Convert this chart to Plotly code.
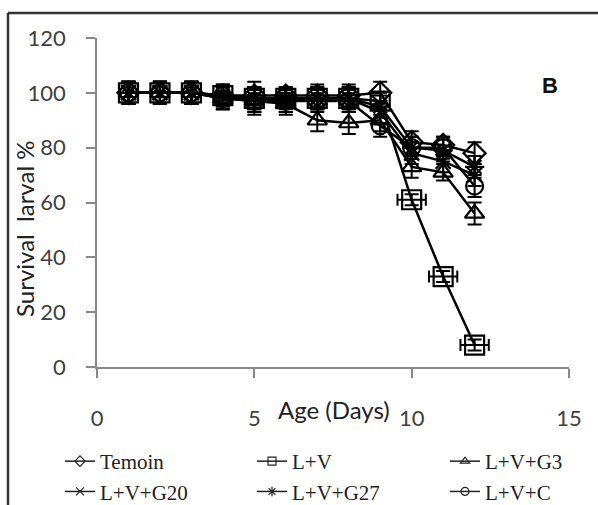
import plotly.graph_objects as go

# Larval survival (%) by age, six treatments
days = [1, 2, 3, 4, 5, 6, 7, 8, 9, 10, 11, 12]

temoin = [100, 100, 100, 99, 99, 99, 99, 99, 100, 82, 81, 78]
lv = [100, 100, 100, 99, 98, 98, 98, 98, 97, 61, 33, 8]
lv_g3 = [100, 100, 100, 98, 97, 96, 90, 89, 90, 73, 71, 56]
lv_g20 = [100, 100, 100, 98, 98, 97, 98, 98, 93, 78, 75, 70]
lv_g27 = [100, 100, 100, 99, 98, 98, 98, 98, 95, 80, 79, 73]
lv_c = [100, 100, 100, 98, 97, 97, 97, 97, 88, 80, 80, 66]

# standard deviations
sd_temoin = [4, 4, 4, 3, 3, 3, 4, 4, 4, 4, 3, 4]
sd_lv = [4, 4, 4, 4, 4, 3, 3, 3, 3, 2, 2, 2]
sd_g3 = [4, 4, 4, 4, 4, 4, 4, 4, 4, 4, 3, 4]
sd_g20 = [4, 4, 4, 4, 6, 4, 4, 4, 4, 4, 4, 4]
sd_g27 = [4, 4, 4, 4, 4, 4, 4, 4, 4, 4, 4, 4]
sd_c = [4, 4, 4, 4, 4, 4, 4, 4, 4, 4, 4, 4]
sd_lv_x = [0, 0, 0, 0, 0, 0, 0, 0, 0, 0.45, 0.45, 0.45]

names = ["Temoin", "L+V", "L+V+G3", "L+V+G20", "L+V+G27", "L+V+C"]
series = [temoin, lv, lv_g3, lv_g20, lv_g27, lv_c]
errors = [sd_temoin, sd_lv, sd_g3, sd_g20, sd_g27, sd_c]
symbols = ["diamond-open", "square-open", "triangle-up-open", "x-thin-open",
           "asterisk-open", "circle-open"]
sizes = [17, 19, 17, 15, 16, 17]
# legend column for each treatment (three columns, two rows)
legend_cols = ["legend", "legend2", "legend3", "legend", "legend2", "legend3"]

fig = go.Figure()

for name, y, err, sym, sz in zip(names, series, errors, symbols, sizes):
    ex = dict(type="data", array=sd_lv_x, color="black", thickness=2, width=6) if name == "L+V" else None
    fig.add_trace(go.Scatter(
        x=days, y=y, mode="lines+markers", name=name, showlegend=False,
        line=dict(color="black", width=2.5),
        marker=dict(symbol=sym, size=sz, color="black",
                    line=dict(color="black", width=2.2)),
        error_y=dict(type="data", array=err, color="black", thickness=2, width=7),
        error_x=ex,
    ))

# small-symbol entries for the legend
for name, sym, lg in zip(names, symbols, legend_cols):
    fig.add_trace(go.Scatter(
        x=[None], y=[None], mode="lines+markers", name=name, legend=lg,
        line=dict(color="#222", width=1.5),
        marker=dict(symbol=sym, size=8, color="#222", line=dict(color="#222", width=1.2)),
    ))

axis_font = dict(family="Lato, Liberation Sans, sans-serif", size=22, color="#404040")
title_font = dict(family="Lato, Liberation Sans, sans-serif", size=24, color="#222")


def legend_column(x_px):
    return dict(
        orientation="v", xref="container", yref="container",
        x=x_px / 598, y=1 - 441 / 505, xanchor="left", yanchor="top",
        font=dict(family="Liberation Serif, serif", size=21, color="#222"),
        bgcolor="rgba(0,0,0,0)", tracegroupgap=0,
    )


fig.update_layout(
    width=598, height=505,
    margin=dict(l=97, r=29, t=38, b=138, autoexpand=False),
    paper_bgcolor="white", plot_bgcolor="white",
    showlegend=True,
    legend=legend_column(60),
    legend2=legend_column(252),
    legend3=legend_column(445),
    xaxis=dict(
        range=[0, 15], tickvals=[0, 5, 10, 15], ticktext=["0", "5", "10", "15"],
        showgrid=False, zeroline=False, showline=True, linecolor="#888", linewidth=1.5,
        ticks="outside", ticklen=9, tickcolor="#888", tickwidth=1.5,
        tickfont=axis_font, ticklabelstandoff=22, automargin=False,
    ),
    yaxis=dict(
        range=[0, 120], tickvals=[0, 20, 40, 60, 80, 100, 120],
        showgrid=False, zeroline=False, showline=True, linecolor="#888", linewidth=1.5,
        ticks="outside", ticklen=9, tickcolor="#888", tickwidth=1.5,
        tickfont=axis_font, ticklabelstandoff=16, automargin=False,
    ),
    annotations=[
        dict(text="Age (Days)", xref="paper", yref="paper", x=(334 - 97) / 472,
             y=(367 - 409) / 329, showarrow=False, xanchor="center", yanchor="middle",
             font=title_font),
        dict(text="Survival  larval %", xref="paper", yref="paper", x=(24 - 97) / 472,
             y=(367 - 229) / 329, showarrow=False, textangle=-90,
             xanchor="center", yanchor="middle", font=title_font),
        dict(text="<b>B</b>", xref="paper", yref="paper", x=(550 - 97) / 472,
             y=(367 - 85) / 329, showarrow=False, xanchor="center", yanchor="middle",
             font=dict(family="Liberation Sans, sans-serif", size=22, color="#111")),
    ],
    shapes=[
        dict(type="line", xref="paper", yref="paper",
             x0=(8 - 97) / 472, x1=(600 - 97) / 472,
             y0=(367 - 13) / 329, y1=(367 - 13) / 329,
             line=dict(color="#333", width=2.5)),
        dict(type="line", xref="paper", yref="paper",
             x0=(8 - 97) / 472, x1=(8 - 97) / 472,
             y0=(367 - 13) / 329, y1=(367 - 510) / 329,
             line=dict(color="#333", width=2.5)),
    ],
)

fig.write_html("out.html")
